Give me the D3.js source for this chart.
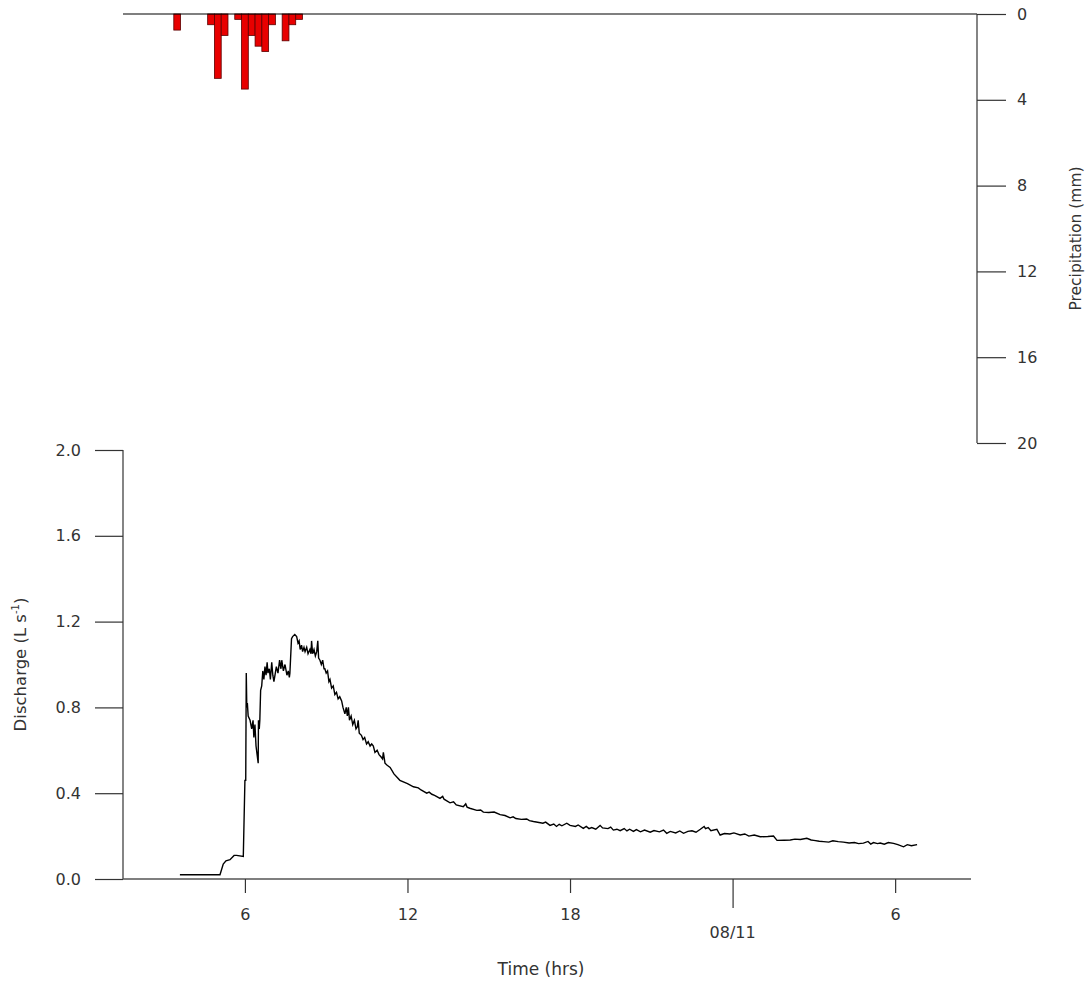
<!DOCTYPE html>
<html><head><meta charset="utf-8">
<script src="https://cdn.jsdelivr.net/npm/d3@7"></script>
<style>
html,body{margin:0;padding:0;background:#fff;}
text{font-family:"DejaVu Sans",Verdana,sans-serif;fill:#333;}
</style></head>
<body><svg id="c" width="1089" height="984"></svg>
<script>
// ---- data ----
const xTickHours = [6, 12, 18, 24, 30];
const xTickLabels = ["6", "12", "18", "", "6"];
const dayTickHour = 24;
const dayLabel = "08/11";
const qTicks = [0, 0.4, 0.8, 1.2, 1.6, 2.0];
const pTicks = [0, 4, 8, 12, 16, 20];

// precipitation, 15-min totals (bar centres, hours)
const precipHours = [3.5, 4.75, 5.0, 5.25, 5.75, 6.0, 6.25, 6.5, 6.75, 7.0, 7.5, 7.75, 8.0];
const precipMm    = [0.75, 0.5, 3.0, 1.0, 0.25, 3.5, 1.0, 1.5, 1.75, 0.5, 1.25, 0.5, 0.25];

// discharge (hours since midnight, L/s)
const dischargeHours = [3.60,5.08,5.20,5.30,5.45,5.60,5.69,5.94,6.00,6.03,6.05,6.07,6.09,6.12,6.19,6.25,6.30,6.33,6.37,6.41,6.45,6.49,6.50,6.53,6.55,6.58,6.62,6.66,6.70,6.74,6.78,6.82,6.85,6.90,6.94,6.99,7.03,7.07,7.11,7.16,7.22,7.28,7.33,7.36,7.42,7.48,7.55,7.60,7.64,7.66,7.72,7.76,7.84,7.91,7.96,8.00,8.04,8.09,8.13,8.18,8.22,8.28,8.33,8.40,8.44,8.46,8.50,8.55,8.60,8.65,8.69,8.72,8.77,8.82,8.87,8.92,8.95,9.00,9.05,9.10,9.14,9.20,9.26,9.32,9.38,9.44,9.50,9.57,9.62,9.69,9.74,9.78,9.82,9.86,9.92,9.98,10.04,10.10,10.15,10.18,10.22,10.30,10.36,10.42,10.49,10.55,10.62,10.68,10.74,10.80,10.88,10.95,11.02,11.08,11.11,11.17,11.25,11.36,11.50,11.72,
  12.0,12.22,12.4,12.5,12.71,12.8,12.9,13.0,13.2,13.3,13.35,13.57,13.7,13.8,14.06,14.15,14.2,14.3,14.56,14.7,14.8,15.0,15.2,15.42,15.6,15.79,15.9,16.0,16.2,16.4,16.5,16.65,17.0,17.1,17.26,17.4,17.5,17.6,17.7,17.88,18.0,18.2,18.3,18.49,18.6,18.7,18.8,18.95,19.11,19.2,19.4,19.5,19.6,19.73,19.85,20.0,20.1,20.2,20.34,20.45,20.6,20.75,20.96,21.1,21.3,21.45,21.57,21.7,21.9,22.05,22.19,22.35,22.5,22.65,22.81,22.95,23.0,23.1,23.2,23.42,23.54,23.7,23.9,24.05,24.28,24.45,24.6,24.8,25.02,25.3,25.51,25.64,25.9,26.13,26.3,26.5,26.74,26.9,27.0,27.2,27.36,27.55,27.7,27.9,28.09,28.3,28.5,28.65,28.83,29.0,29.1,29.2,29.35,29.45,29.6,29.75,29.94,30.1,30.31,30.45,30.6,30.81];
const dischargeLps = [0.02,0.02,0.07,0.085,0.09,0.11,0.11,0.105,0.46,0.46,0.96,0.80,0.82,0.76,0.74,0.70,0.74,0.66,0.72,0.62,0.58,0.54,0.74,0.70,0.74,0.88,0.90,0.97,0.93,0.99,0.95,1.01,0.96,0.98,0.93,1.01,0.95,0.92,0.95,0.99,0.96,1.02,0.98,1.02,0.97,1.00,0.95,0.97,0.94,0.96,1.12,1.13,1.14,1.13,1.10,1.11,1.07,1.09,1.06,1.08,1.06,1.08,1.05,1.07,1.05,1.11,1.05,1.07,1.04,1.06,1.11,1.03,1.02,1.00,1.02,0.98,0.98,0.96,0.97,0.92,0.93,0.89,0.90,0.86,0.87,0.84,0.85,0.83,0.80,0.77,0.80,0.76,0.80,0.74,0.76,0.72,0.74,0.70,0.71,0.74,0.68,0.67,0.65,0.66,0.63,0.64,0.62,0.63,0.62,0.59,0.60,0.58,0.57,0.56,0.59,0.54,0.53,0.52,0.49,0.46,
  0.445,0.43,0.425,0.415,0.40,0.405,0.395,0.39,0.376,0.385,0.372,0.355,0.36,0.345,0.337,0.35,0.335,0.33,0.32,0.322,0.312,0.31,0.312,0.30,0.296,0.285,0.29,0.282,0.278,0.28,0.272,0.268,0.26,0.265,0.25,0.256,0.245,0.255,0.248,0.26,0.25,0.245,0.252,0.236,0.245,0.235,0.24,0.232,0.25,0.238,0.235,0.242,0.228,0.232,0.225,0.235,0.224,0.232,0.222,0.23,0.22,0.228,0.218,0.226,0.22,0.228,0.213,0.222,0.215,0.224,0.213,0.222,0.225,0.218,0.232,0.245,0.235,0.24,0.225,0.232,0.205,0.212,0.21,0.215,0.205,0.21,0.20,0.205,0.197,0.198,0.2,0.18,0.181,0.182,0.186,0.184,0.19,0.182,0.18,0.176,0.174,0.172,0.178,0.174,0.172,0.168,0.17,0.165,0.167,0.175,0.163,0.17,0.165,0.168,0.162,0.17,0.166,0.16,0.15,0.16,0.155,0.16];

// ---- drawing ----
const FONT = '"DejaVu Sans",Verdana,sans-serif';
const svg = d3.select("#c");
const x = d3.scaleLinear().domain([1.5, 32.8]).range([123, 971]);
const yQ = d3.scaleLinear().domain([0, 2]).range([879, 450]);
const yP = d3.scaleLinear().domain([0, 20]).range([14, 443]);
const axisCol = "#333";

// precipitation bars (hanging from top)
const barW = x(0.25) - x(0);
svg.append("g").selectAll("rect").data(precipHours).join("rect")
  .attr("x", (d) => x(d) - barW / 2)
  .attr("y", yP(0))
  .attr("width", barW)
  .attr("height", (d, i) => yP(precipMm[i]) - yP(0))
  .attr("fill", "#e80000").attr("stroke", "#5a0000").attr("stroke-width", 0.8);

// top zero line
svg.append("line").attr("x1", 123).attr("x2", 977).attr("y1", yP(0)).attr("y2", yP(0))
  .attr("stroke", "#000").attr("stroke-width", 1.2);

// right precipitation axis
const pAxis = d3.axisRight(yP).tickValues(pTicks).tickSize(29).tickPadding(11).tickFormat(d3.format("d"));
const gP = svg.append("g").attr("transform", "translate(977,0)").call(pAxis);
gP.select(".domain").attr("d", `M0,${yP(0)}V${yP(20)}`).attr("stroke", axisCol).attr("stroke-width", 1.2);
gP.selectAll(".tick line").attr("stroke", axisCol).attr("stroke-width", 1.2);
gP.selectAll(".tick text").attr("font-size", 16).attr("fill", "#333").style("font-family", FONT);
svg.append("text").attr("transform", `translate(1081,${(yP(0) + yP(20)) / 2 + 10}) rotate(-90)`)
  .attr("text-anchor", "middle").attr("font-size", 15.5).text("Precipitation (mm)");

// left discharge axis
const qAxis = d3.axisLeft(yQ).tickValues(qTicks).tickSize(28).tickPadding(14).tickFormat(d3.format(".1f"));
const gQ = svg.append("g").attr("transform", "translate(123,0)").call(qAxis);
gQ.select(".domain").attr("d", `M0,${yQ(2)}V${yQ(0)}`).attr("stroke", axisCol).attr("stroke-width", 1.2);
gQ.selectAll(".tick line").attr("stroke", axisCol).attr("stroke-width", 1.2);
gQ.selectAll(".tick text").attr("font-size", 16).attr("fill", "#333").style("font-family", FONT);
const yl = svg.append("text").attr("transform", `translate(26,${(yQ(0) + yQ(2)) / 2}) rotate(-90)`)
  .attr("text-anchor", "middle").attr("font-size", 16.5);
yl.append("tspan").text("Discharge (L s");
yl.append("tspan").attr("font-size", 10).attr("dy", -7).text("-1");
yl.append("tspan").attr("dy", 7).text(")");

// bottom time axis
const xAxis = d3.axisBottom(x).tickValues(xTickHours).tickSize(14).tickPadding(16)
  .tickFormat((d, i) => xTickLabels[i]);
const gX = svg.append("g").attr("transform", `translate(0,${yQ(0)})`).call(xAxis);
gX.select(".domain").attr("d", `M${x.range()[0]},0H${x.range()[1]}`).attr("stroke", "#555").attr("stroke-width", 1.6);
gX.selectAll(".tick line").attr("stroke", axisCol).attr("stroke-width", 1.2)
  .attr("y2", (d) => d === dayTickHour ? 29 : 14);
gX.selectAll(".tick text").attr("font-size", 16).attr("fill", "#333").style("font-family", FONT);
svg.append("text").attr("x", x(dayTickHour)).attr("y", 938).attr("text-anchor", "middle")
  .attr("font-size", 16).text(dayLabel);
svg.append("text").attr("x", 541).attr("y", 975).attr("text-anchor", "middle")
  .attr("font-size", 17).text("Time (hrs)");

// discharge line
const line = d3.line().x((d) => x(d[0])).y((d) => yQ(d[1]));
svg.append("path").datum(dischargeHours.map((h, i) => [h, dischargeLps[i]]))
  .attr("d", line).attr("fill", "none").attr("stroke", "#000").attr("stroke-width", 1.4)
  .attr("stroke-linejoin", "miter");
</script></body></html>
